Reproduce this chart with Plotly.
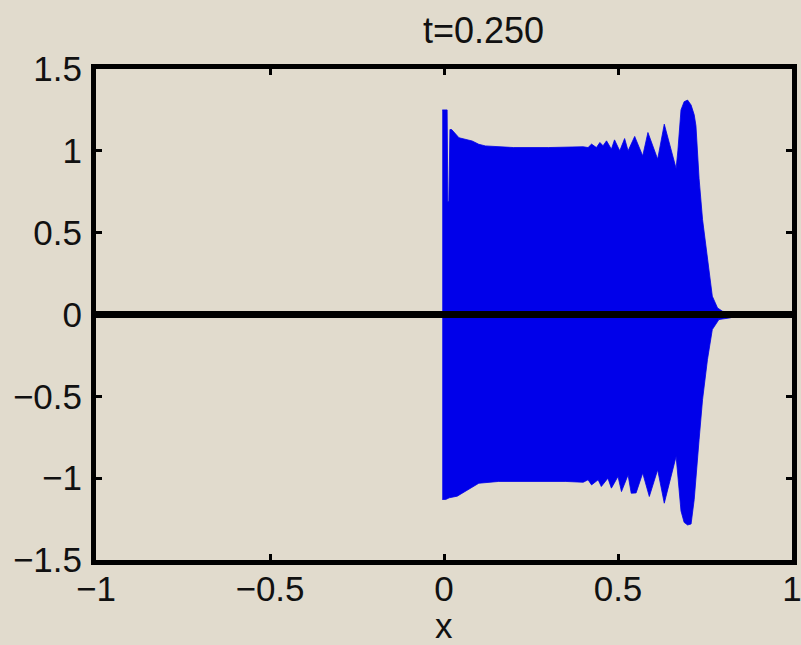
import plotly.graph_objects as go

# ---- data ----
upper_x = [-0.005, 0.009, 0.011, 0.014, 0.017, 0.022, 0.043, 0.081, 0.100, 0.119, 0.20, 0.30, 0.40,
           0.414, 0.424, 0.438, 0.448, 0.457, 0.467, 0.481, 0.490, 0.505, 0.519, 0.529, 0.548,
           0.571, 0.586, 0.614, 0.633, 0.667, 0.672, 0.681, 0.690, 0.700, 0.710, 0.719, 0.724,
           0.733, 0.743, 0.757, 0.771, 0.786, 0.800, 0.824]
upper_y = [1.25, 1.25, 0.69, 0.69, 1.13, 1.13, 1.08, 1.06, 1.04, 1.03, 1.02, 1.02, 1.025,
           1.02, 1.041, 1.02, 1.051, 1.031, 1.061, 1.010, 1.067, 1.00, 1.075, 1.00, 1.088,
           0.969, 1.112, 0.949, 1.163, 0.892, 1.00, 1.25, 1.30, 1.31, 1.28, 1.22, 1.153,
           0.83, 0.58, 0.337, 0.112, 0.04, 0.02, 0.01]

lower_x = [-0.005, 0.005, 0.015, 0.038, 0.062, 0.100, 0.157, 0.25, 0.35, 0.40,
           0.414, 0.424, 0.443, 0.452, 0.471, 0.481, 0.500, 0.510, 0.529, 0.538, 0.552,
           0.571, 0.590, 0.614, 0.633, 0.667, 0.681, 0.690, 0.700, 0.710, 0.719,
           0.733, 0.743, 0.757, 0.771, 0.790, 0.824]
lower_y = [-1.13, -1.13, -1.12, -1.11, -1.08, -1.031, -1.02, -1.02, -1.02, -1.025,
           -1.01, -1.041, -1.01, -1.051, -1.00, -1.061, -0.99, -1.082, -0.98, -1.092, -1.09,
           -0.969, -1.112, -0.949, -1.153, -0.867, -1.20, -1.27, -1.286, -1.28, -1.13,
           -0.765, -0.52, -0.276, -0.092, -0.031, -0.02]

zero_x = [-1, 1]
zero_y = [0, 0]

x_ticks = [-1, -0.5, 0, 0.5, 1]
x_labels = ["\u22121", "\u22120.5", "0", "0.5", "1"]
y_ticks = [-1.5, -1, -0.5, 0, 0.5, 1, 1.5]
y_labels = ["\u22121.5", "\u22121", "\u22120.5", "0", "0.5", "1", "1.5"]

title_text = "t=0.250"
x_title = "x"

BG = "#e1dbcd"
BLUE = "#0000ea"
FAMILY = "Liberation Sans, Arial, sans-serif"

poly_x = upper_x + lower_x[::-1]
poly_y = upper_y + lower_y[::-1]

fig = go.Figure()
fig.add_trace(go.Scatter(x=poly_x, y=poly_y, mode="lines", fill="toself",
                         fillcolor=BLUE, line=dict(color=BLUE, width=0.8),
                         hoverinfo="skip", showlegend=False))
fig.add_trace(go.Scatter(x=zero_x, y=zero_y, mode="lines",
                         line=dict(color="black", width=7),
                         hoverinfo="skip", showlegend=False))

font = dict(family=FAMILY, size=35, color="#111111")

fig.update_layout(
    width=801, height=645,
    margin=dict(l=96, r=8.5, t=68.5, b=85, autoexpand=False),
    paper_bgcolor=BG, plot_bgcolor=BG,
    font=font,
    title=dict(text=title_text, x=446 / 801, xanchor="center", xref="paper",
               y=1 - 30 / 645, yref="container", yanchor="middle",
               font=dict(family=FAMILY, size=36, color="#111111")),
    showlegend=False,
)
fig.add_annotation(text=x_title, xref="paper", yref="paper", x=0.5, y=(560 - 626) / 491.5,
                   xanchor="center", yanchor="middle", showarrow=False, font=font)
fig.update_xaxes(range=[-1, 1], tickvals=x_ticks, ticktext=x_labels, automargin=False,
                 showline=True, linecolor="black", linewidth=5, mirror="ticks",
                 ticks="inside", ticklen=6, tickwidth=3, tickcolor="black",
                 showgrid=False, zeroline=False, ticklabelstandoff=-6,
                 ticklabeloverflow="allow")
fig.update_yaxes(range=[-1.5, 1.5], tickvals=y_ticks, ticktext=y_labels, automargin=False,
                 showline=True, linecolor="black", linewidth=5, mirror="ticks",
                 ticks="inside", ticklen=6, tickwidth=3, tickcolor="black",
                 showgrid=False, zeroline=False, ticklabelstandoff=2,
                 ticklabeloverflow="allow")

fig.write_html("out.html")
